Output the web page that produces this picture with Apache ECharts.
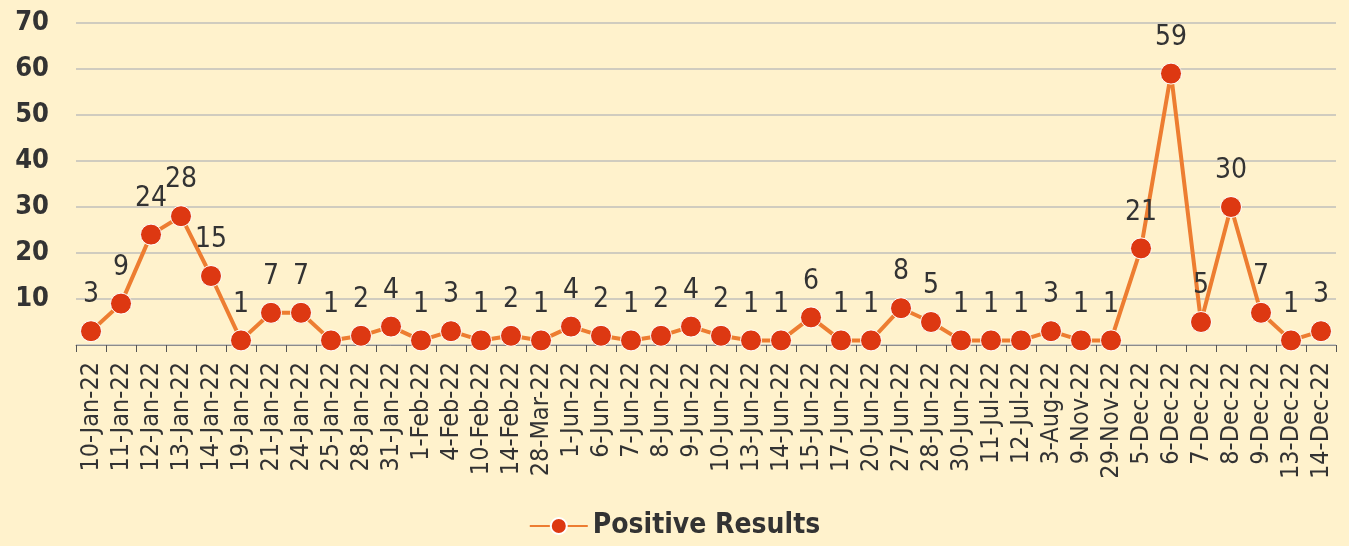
<!DOCTYPE html>
<html lang="en">
<head>
<meta charset="UTF-8">
<title>Positive Results</title>
<style>
    html, body { margin: 0; padding: 0; background: #fff2cc; }
    #chart { width: 1349px; height: 546px; }
</style>
</head>
<body>
<div id="chart"></div>
<script src="https://cdn.jsdelivr.net/npm/echarts@6/dist/echarts.min.js"></script>
<script>
var dates = ['10-Jan-22', '11-Jan-22', '12-Jan-22', '13-Jan-22', '14-Jan-22', '19-Jan-22', '21-Jan-22',
    '24-Jan-22', '25-Jan-22', '28-Jan-22', '31-Jan-22', '1-Feb-22', '4-Feb-22', '10-Feb-22', '14-Feb-22',
    '28-Mar-22', '1-Jun-22', '6-Jun-22', '7-Jun-22', '8-Jun-22', '9-Jun-22', '10-Jun-22', '13-Jun-22',
    '14-Jun-22', '15-Jun-22', '17-Jun-22', '20-Jun-22', '27-Jun-22', '28-Jun-22', '30-Jun-22', '11-Jul-22',
    '12-Jul-22', '3-Aug-22', '9-Nov-22', '29-Nov-22', '5-Dec-22', '6-Dec-22', '7-Dec-22', '8-Dec-22',
    '9-Dec-22', '13-Dec-22', '14-Dec-22'];
var positiveResults = [3, 9, 24, 28, 15, 1, 7, 7, 1, 2, 4, 1, 3, 1, 2, 1, 4, 2, 1, 2, 4, 2, 1, 1, 6, 1, 1,
    8, 5, 1, 1, 1, 3, 1, 1, 21, 59, 5, 30, 7, 1, 3];
var yTicks = [10, 20, 30, 40, 50, 60, 70];

var narrow = '"DejaVu Sans Condensed", "DejaVu Sans"';

var chart = echarts.init(document.getElementById('chart'));
var option = {
    backgroundColor: '#fff2cc',
    animation: false,
    textStyle: { fontFamily: narrow },
    grid: { left: 76, right: 13, top: 23, bottom: 201 },
    legend: {
        bottom: 1,
        left: 'center',
        itemWidth: 58,
        itemHeight: 20,
        itemGap: 4,
        textStyle: { fontSize: 28, fontWeight: 'bold', color: '#333333', fontFamily: narrow },
        data: ['Positive Results']
    },
    xAxis: {
        type: 'category',
        data: dates,
        boundaryGap: true,
        axisLine: { lineStyle: { color: '#8c8c8c', width: 1 } },
        axisTick: { show: true, length: 7, lineStyle: { color: '#555555' } },
        axisLabel: {
            interval: 0,
            rotate: 90,
            fontSize: 25,
            color: '#333333',
            fontFamily: narrow,
            margin: 17
        }
    },
    yAxis: {
        type: 'value',
        min: 0,
        max: 70,
        interval: 10,
        axisLine: { show: false },
        axisTick: { show: false },
        splitLine: { lineStyle: { color: '#d0ccbf', width: 2 } },
        axisLabel: {
            fontSize: 27,
            fontWeight: 'bold',
            color: '#333333',
            fontFamily: narrow,
            margin: 27,
            formatter: function (v) { return yTicks.indexOf(v) >= 0 ? String(v) : ''; }
        }
    },
    series: [{
        name: 'Positive Results',
        type: 'line',
        data: positiveResults,
        symbol: 'circle',
        symbolSize: 21,
        lineStyle: { color: '#ed7d31', width: 4 },
        itemStyle: { color: '#dd3812', borderColor: '#ffffff', borderWidth: 1 },
        label: {
            show: true,
            position: 'top',
            distance: 11,
            fontSize: 28,
            color: '#333333',
            fontFamily: narrow
        }
    }]
};
chart.setOption(option);
</script>
</body>
</html>
